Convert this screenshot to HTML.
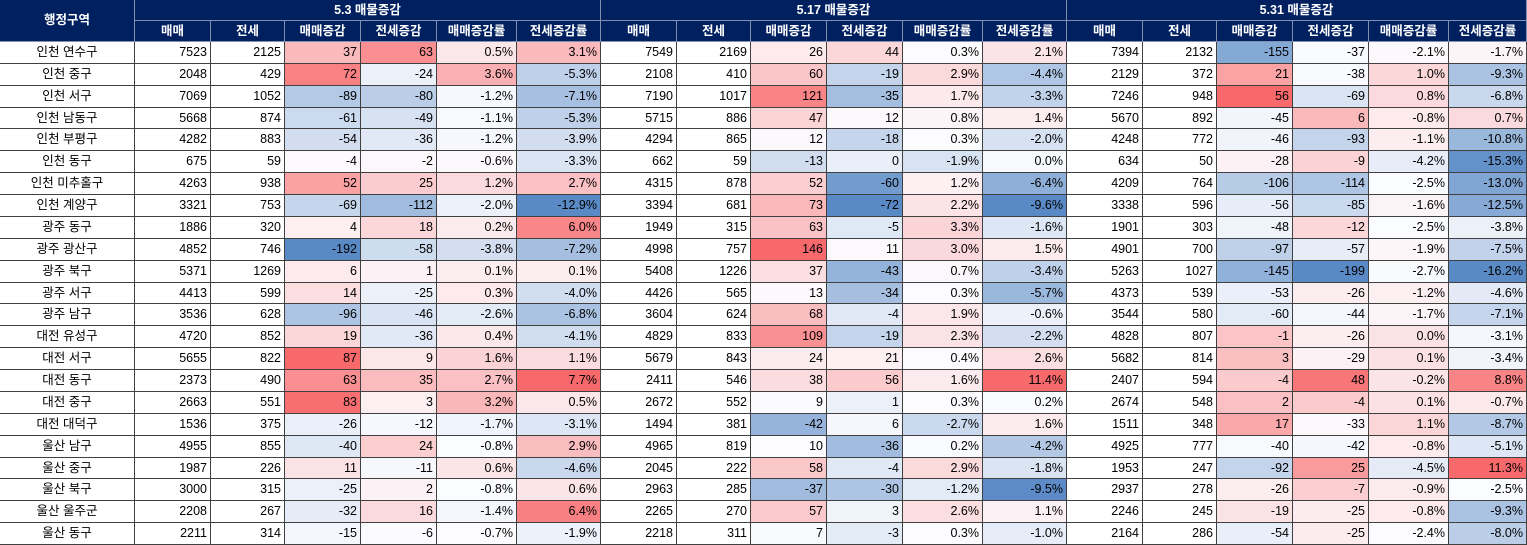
<!DOCTYPE html>
<html><head><meta charset="utf-8">
<style>
html,body{margin:0;padding:0;background:#fff;}
body{width:1527px;height:545px;overflow:hidden;position:relative;font-family:"Liberation Sans","Noto Sans CJK KR","NanumGothic",sans-serif;font-size:12.5px;color:#000;}
.c{position:absolute;box-sizing:border-box;border-right:1px solid #404040;border-bottom:1px solid #404040;line-height:21px;white-space:nowrap;overflow:hidden;}
.h{background:#002060;color:#fff;font-weight:bold;text-align:center;border-color:#8090b0;}
.n{text-align:right;padding-right:3px;}
.t{text-align:center;}
</style></head><body>
<div id="tbl"></div>
<script>
const periods = ["5.3 매물증감","5.17 매물증감","5.31 매물증감"];
const subHeaders = ["매매","전세","매매증감","전세증감","매매증감률","전세증감률"];
const regions = ["인천 연수구","인천 중구","인천 서구","인천 남동구","인천 부평구","인천 동구","인천 미추홀구","인천 계양구","광주 동구","광주 광산구","광주 북구","광주 서구","광주 남구","대전 유성구","대전 서구","대전 동구","대전 중구","대전 대덕구","울산 남구","울산 중구","울산 북구","울산 울주군","울산 동구"];
const values = [
[7523,2125,37,63,0.5,3.1,7549,2169,26,44,0.3,2.1,7394,2132,-155,-37,-2.1,-1.7],
[2048,429,72,-24,3.6,-5.3,2108,410,60,-19,2.9,-4.4,2129,372,21,-38,1.0,-9.3],
[7069,1052,-89,-80,-1.2,-7.1,7190,1017,121,-35,1.7,-3.3,7246,948,56,-69,0.8,-6.8],
[5668,874,-61,-49,-1.1,-5.3,5715,886,47,12,0.8,1.4,5670,892,-45,6,-0.8,0.7],
[4282,883,-54,-36,-1.2,-3.9,4294,865,12,-18,0.3,-2.0,4248,772,-46,-93,-1.1,-10.8],
[675,59,-4,-2,-0.6,-3.3,662,59,-13,0,-1.9,0.0,634,50,-28,-9,-4.2,-15.3],
[4263,938,52,25,1.2,2.7,4315,878,52,-60,1.2,-6.4,4209,764,-106,-114,-2.5,-13.0],
[3321,753,-69,-112,-2.0,-12.9,3394,681,73,-72,2.2,-9.6,3338,596,-56,-85,-1.6,-12.5],
[1886,320,4,18,0.2,6.0,1949,315,63,-5,3.3,-1.6,1901,303,-48,-12,-2.5,-3.8],
[4852,746,-192,-58,-3.8,-7.2,4998,757,146,11,3.0,1.5,4901,700,-97,-57,-1.9,-7.5],
[5371,1269,6,1,0.1,0.1,5408,1226,37,-43,0.7,-3.4,5263,1027,-145,-199,-2.7,-16.2],
[4413,599,14,-25,0.3,-4.0,4426,565,13,-34,0.3,-5.7,4373,539,-53,-26,-1.2,-4.6],
[3536,628,-96,-46,-2.6,-6.8,3604,624,68,-4,1.9,-0.6,3544,580,-60,-44,-1.7,-7.1],
[4720,852,19,-36,0.4,-4.1,4829,833,109,-19,2.3,-2.2,4828,807,-1,-26,0.0,-3.1],
[5655,822,87,9,1.6,1.1,5679,843,24,21,0.4,2.6,5682,814,3,-29,0.1,-3.4],
[2373,490,63,35,2.7,7.7,2411,546,38,56,1.6,11.4,2407,594,-4,48,-0.2,8.8],
[2663,551,83,3,3.2,0.5,2672,552,9,1,0.3,0.2,2674,548,2,-4,0.1,-0.7],
[1536,375,-26,-12,-1.7,-3.1,1494,381,-42,6,-2.7,1.6,1511,348,17,-33,1.1,-8.7],
[4955,855,-40,24,-0.8,2.9,4965,819,10,-36,0.2,-4.2,4925,777,-40,-42,-0.8,-5.1],
[1987,226,11,-11,0.6,-4.6,2045,222,58,-4,2.9,-1.8,1953,247,-92,25,-4.5,11.3],
[3000,315,-25,2,-0.8,0.6,2963,285,-37,-30,-1.2,-9.5,2937,278,-26,-7,-0.9,-2.5],
[2208,267,-32,16,-1.4,6.4,2265,270,57,3,2.6,1.1,2246,245,-19,-25,-0.8,-9.3],
[2211,314,-15,-6,-0.7,-1.9,2218,311,7,-3,0.3,-1.0,2164,286,-54,-25,-2.4,-8.0]
];
const colWBase=[76,74,76,76,80,84];
const firstW=135, hRow=21, dataTop=42, rowH=(545-42)/23;
const tbl=document.getElementById('tbl');
function cell(x,y,w,h,txt,cls){const d=document.createElement('div');d.className='c '+cls;d.style.left=x+'px';d.style.top=y+'px';d.style.width=w+'px';d.style.height=h+'px';d.style.lineHeight=(h-1)+'px';d.textContent=txt;tbl.appendChild(d);return d;}
function mix(a,b,t){t=Math.max(0,Math.min(1,t));return 'rgb('+a.map((v,i)=>Math.round(v+(b[i]-v)*t)).join(',')+')';}
const RED=[248,105,107],BLUE=[90,138,198],MID=[252,252,255];
let e=cell(0,0,firstW,dataTop,'행정구역','h');


const colX=[];let x=firstW;
for(let p=0;p<3;p++){
 const ws=colWBase.slice(); if(p===2) ws[5]=1527-x-ws.slice(0,5).reduce((a,b)=>a+b,0);
 const gw=ws.reduce((a,b)=>a+b,0);
 e=cell(x,0,gw,hRow,periods[p],'h');
 
 
 for(let k=0;k<6;k++){colX.push([x,ws[k]]);
  e=cell(x,hRow,ws[k],dataTop-hRow,subHeaders[k],'h');
  
  
  x+=ws[k];}}
// shared scale per period per column pair (counts pair, rates pair): min, median, max
const scales={};
for(let p=0;p<3;p++){for(const pair of [[2,3],[4,5]]){
 const js=pair.map(k=>p*6+k);
 const all=[];values.forEach(r=>js.forEach(j=>all.push(r[j])));
 all.sort((a,b)=>a-b);const n=all.length;
 const md=n%2?all[(n-1)/2]:(all[n/2-1]+all[n/2])/2;
 js.forEach(j=>scales[j]=[all[0],md,all[n-1]]);}}
regions.forEach((rg,i)=>{const y=dataTop+i*rowH;const yy=Math.round(y);const h=Math.round(y+rowH)-yy;
 e=cell(0,yy,firstW,h,rg,'t');
 
 
 for(let j=0;j<18;j++){const v=values[i][j];const k=j%6;
  const txt=k>=4?v.toFixed(1)+'%':String(v);
  e=cell(colX[j][0],yy,colX[j][1],h,txt,'n');
  
  
  if(k>=2){const [mn,md,mx]=scales[j];let bg;
   if(v>=md){bg=mix(MID,RED,mx>md?(v-md)/(mx-md):0);}else{bg=mix(MID,BLUE,md>mn?(md-v)/(md-mn):0);}
   e.style.background=bg;}
 }});
</script>
</body></html>
